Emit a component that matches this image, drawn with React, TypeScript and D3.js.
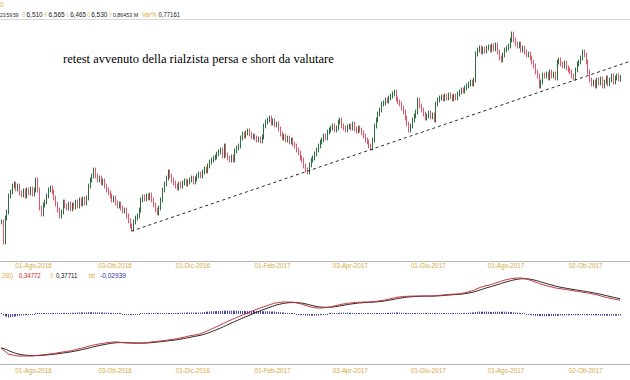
import React from "react";
import * as d3 from "d3";

// ---- DATA ----
const startDate = [2016, 6, 6]; // first session: 06 Jul 2016 (daily, weekdays)
const closes = [
  4.725, 4.475, 4.775, 4.85, 5.05, 5.1, 5.175, 5.2, 5.138, 5.175,
  5.088, 5.063, 5.113, 5.05, 5.125, 5.088, 5.138, 5.075, 5.125, 5.25,
  5.125, 4.9, 4.825, 4.938, 4.975, 5.05, 5.125, 5.15, 5.1, 5.025,
  4.95, 4.875, 4.8, 4.85, 4.975, 4.925, 4.9, 4.95, 4.888, 4.938,
  4.913, 4.975, 4.925, 5.0, 4.95, 5.013, 4.963, 5.025, 5.175, 5.25,
  5.3, 5.375, 5.3, 5.25, 5.275, 5.213, 5.238, 5.175, 5.125, 5.088,
  5.05, 5.0, 5.025, 4.963, 4.925, 4.95, 4.9, 4.863, 4.875, 4.8,
  4.738, 4.675, 4.638, 4.725, 4.775, 4.8, 4.875, 5.0, 5.038, 5.013,
  5.05, 5.025, 5.063, 5.0, 4.938, 4.875, 4.838, 4.9, 5.0, 5.125,
  5.2, 5.275, 5.35, 5.3, 5.25, 5.213, 5.175, 5.15, 5.2, 5.175,
  5.213, 5.238, 5.2, 5.225, 5.25, 5.275, 5.225, 5.263, 5.3, 5.325,
  5.3, 5.35, 5.388, 5.363, 5.425, 5.475, 5.5, 5.525, 5.538, 5.575,
  5.6, 5.625, 5.55, 5.675, 5.563, 5.525, 5.5, 5.538, 5.5, 5.613,
  5.65, 5.675, 5.775, 5.825, 5.8, 5.838, 5.863, 5.825, 5.788, 5.8,
  5.775, 5.75, 5.763, 5.738, 5.788, 5.925, 5.975, 6.0, 6.025, 5.963,
  5.988, 5.938, 5.95, 5.888, 5.825, 5.775, 5.8, 5.75, 5.775, 5.725,
  5.75, 5.7, 5.675, 5.625, 5.588, 5.525, 5.5, 5.425, 5.375, 5.35,
  5.438, 5.5, 5.525, 5.575, 5.625, 5.675, 5.725, 5.75, 5.8, 5.775,
  5.85, 5.875, 5.9, 5.925, 5.875, 5.9, 5.975, 6.0, 5.925, 5.9,
  5.875, 5.913, 5.925, 5.9, 5.95, 5.888, 5.863, 5.9, 5.875, 5.838,
  5.8, 5.75, 5.725, 5.675, 5.65, 5.75, 5.925, 6.0, 6.075, 6.125,
  6.2, 6.213, 6.25, 6.238, 6.275, 6.3, 6.325, 6.35, 6.263, 6.225,
  6.2, 6.15, 6.1, 6.025, 5.95, 5.875, 5.925, 6.0, 6.05, 6.1,
  6.25, 6.175, 6.125, 6.075, 6.025, 6.05, 6.088, 6.038, 6.063, 6.0,
  6.2, 6.25, 6.275, 6.288, 6.263, 6.3, 6.275, 6.313, 6.288, 6.263,
  6.3, 6.275, 6.325, 6.35, 6.375, 6.363, 6.4, 6.425, 6.45, 6.475,
  6.45, 6.5, 6.825, 6.875, 6.9, 6.85, 6.888, 6.863, 6.9, 6.913,
  6.875, 6.925, 6.888, 6.938, 6.85, 6.775, 6.75, 6.813, 6.875, 6.9,
  6.925, 7.0, 7.075, 7.0, 6.95, 6.925, 6.95, 6.875, 6.9, 6.85,
  6.813, 6.825, 6.775, 6.725, 6.675, 6.6, 6.55, 6.425, 6.475, 6.563,
  6.55, 6.575, 6.525, 6.6, 6.55, 6.575, 6.525, 6.725, 6.75, 6.7,
  6.675, 6.713, 6.65, 6.625, 6.6, 6.55, 6.525, 6.625, 6.7, 6.725,
  6.775, 6.85, 6.813, 6.725, 6.6, 6.5, 6.45, 6.475, 6.425, 6.5,
  6.463, 6.513, 6.425, 6.475, 6.525, 6.45, 6.5, 6.55, 6.475, 6.525,
  6.55, 6.51, 6.53,
];
const macd = [
  -0.85, -0.89, -0.93, -0.96, -1.0, -1.01, -1.02, -1.03, -1.04, -1.045,
  -1.05, -1.05, -1.05, -1.05, -1.05, -1.05, -1.05, -1.048, -1.045, -1.04,
  -1.035, -1.03, -1.025, -1.02, -1.015, -1.01, -1.005, -1.0, -0.995, -0.99,
  -0.98, -0.975, -0.965, -0.96, -0.95, -0.945, -0.935, -0.93, -0.925, -0.915,
  -0.905, -0.895, -0.88, -0.87, -0.86, -0.85, -0.84, -0.825, -0.81, -0.8,
  -0.79, -0.78, -0.77, -0.76, -0.75, -0.745, -0.735, -0.73, -0.72, -0.715,
  -0.71, -0.705, -0.7, -0.7, -0.7, -0.705, -0.71, -0.715, -0.72, -0.72,
  -0.725, -0.725, -0.73, -0.73, -0.73, -0.73, -0.73, -0.725, -0.725, -0.725,
  -0.72, -0.715, -0.71, -0.7, -0.695, -0.69, -0.685, -0.68, -0.675, -0.67,
  -0.665, -0.66, -0.65, -0.645, -0.64, -0.635, -0.625, -0.62, -0.61, -0.6,
  -0.59, -0.58, -0.57, -0.56, -0.55, -0.54, -0.535, -0.525, -0.515, -0.505,
  -0.5, -0.48, -0.46, -0.44, -0.42, -0.4, -0.38, -0.36, -0.34, -0.32,
  -0.3, -0.28, -0.255, -0.235, -0.21, -0.19, -0.17, -0.15, -0.13, -0.11,
  -0.09, -0.07, -0.05, -0.035, -0.015, 0.0, 0.02, 0.04, 0.06, 0.08,
  0.095, 0.115, 0.13, 0.15, 0.165, 0.18, 0.195, 0.21, 0.225, 0.24,
  0.255, 0.27, 0.275, 0.285, 0.29, 0.295, 0.3, 0.3, 0.3, 0.3,
  0.3, 0.295, 0.29, 0.28, 0.27, 0.26, 0.25, 0.235, 0.22, 0.205,
  0.19, 0.18, 0.17, 0.16, 0.155, 0.15, 0.15, 0.15, 0.155, 0.16,
  0.165, 0.17, 0.18, 0.19, 0.2, 0.21, 0.22, 0.23, 0.24, 0.25,
  0.255, 0.265, 0.27, 0.275, 0.28, 0.285, 0.29, 0.29, 0.295, 0.295,
  0.3, 0.3, 0.3, 0.3, 0.3, 0.305, 0.31, 0.315, 0.32, 0.33,
  0.335, 0.34, 0.35, 0.36, 0.37, 0.38, 0.39, 0.4, 0.41, 0.42,
  0.425, 0.43, 0.435, 0.44, 0.44, 0.445, 0.445, 0.445, 0.45, 0.45,
  0.45, 0.45, 0.45, 0.45, 0.45, 0.45, 0.45, 0.45, 0.45, 0.45,
  0.455, 0.46, 0.465, 0.47, 0.475, 0.48, 0.485, 0.49, 0.49, 0.495,
  0.495, 0.5, 0.5, 0.505, 0.51, 0.52, 0.53, 0.54, 0.55, 0.565,
  0.575, 0.59, 0.61, 0.63, 0.65, 0.665, 0.68, 0.695, 0.71, 0.72,
  0.725, 0.74, 0.755, 0.77, 0.785, 0.8, 0.815, 0.83, 0.845, 0.855,
  0.865, 0.875, 0.885, 0.89, 0.895, 0.9, 0.9, 0.9, 0.895, 0.885,
  0.875, 0.865, 0.85, 0.835, 0.82, 0.8, 0.785, 0.77, 0.75, 0.74,
  0.725, 0.71, 0.7, 0.69, 0.68, 0.665, 0.655, 0.645, 0.64, 0.635,
  0.625, 0.62, 0.615, 0.605, 0.6, 0.59, 0.585, 0.575, 0.57, 0.565,
  0.555, 0.55, 0.54, 0.535, 0.525, 0.52, 0.51, 0.5, 0.49, 0.48,
  0.47, 0.455, 0.445, 0.43, 0.42, 0.41, 0.4, 0.39, 0.38, 0.37,
  0.36, 0.355, 0.348,
];
const signalPeriod = 9;
const tickDates = ["2016-08-01", "2016-10-03", "2016-12-01", "2017-02-01", "2017-04-03", "2017-06-01", "2017-08-01", "2017-10-02"];
const tickLabels = ["01-Ago-2016", "03-Ott-2016", "01-Dic-2016", "01-Feb-2017", "03-Apr-2017", "01-Giu-2017", "01-Ago-2017", "02-Ott-2017"];
const trendIdx = [72, 347];
const trendPrice = [4.61, 6.73];
const headerLabels = ["", "O", "H", "L", "C", "V", "Var%"];
const headerValues = ["23:59:59", "6,510", "6,565", "6,465", "6,530", "0,86453 M", "0,77161"];
const legendTexts = [",200)", "0,34772", "S", "0,37711", "Ist", "-0,02939"];
const annotation = "retest avvenuto della rialzista persa e short da valutare";

// ---- LAYOUT / STYLE ----
const W = 630, H = 380;
const GOLD = "#d6a93c";
const UP = "#2f6e3e";
const DOWN = "#e2566a";
const headerLabelX = [0, 22.6, 44.3, 66.7, 87.3, 109.2, 142];
const headerLabelW = [0, 2.5, 2.6, 2.1, 2.6, 2.5, 14.5];
const headerValueX = [0, 26.5, 48.4, 70.3, 91.2, 112.9, 158.5];
const headerValueW = [18.5, 16.2, 16.3, 15.8, 16.1, 25.4, 21.5];
const headerValueFs = [5.4, 6.3, 6.3, 6.3, 6.3, 5.6, 6.3];
const legendX = [1, 19, 50.5, 56, 88.5, 100];
const legendW = [12, 21.7, 2.4, 21.3, 6.5, 26];
const legendColors = [GOLD, "#cc2222", GOLD, "#111", GOLD, "#3333aa"];
const SANS = "'Liberation Sans', Arial, sans-serif";

function makeDates(n: number): string[] {
  const out: string[] = [];
  const d = new Date(startDate[0], startDate[1], startDate[2]);
  while (out.length < n) {
    const wd = d.getDay();
    if (wd !== 0 && wd !== 6) {
      const s = `${d.getFullYear()}-${String(d.getMonth() + 1).padStart(2, "0")}-${String(d.getDate()).padStart(2, "0")}`;
      out.push(s);
    }
    d.setDate(d.getDate() + 1);
  }
  return out;
}

function ema(arr: number[], p: number): number[] {
  const k = 2 / (p + 1);
  const out: number[] = [];
  arr.forEach((v, i) => out.push(i === 0 ? v : out[i - 1] + k * (v - out[i - 1])));
  return out;
}

export default function App() {
  const n = closes.length;
  const dates = makeDates(n);
  const x = d3.scaleLinear().domain([0, n - 1]).range([1, 620]);
  const y = d3.scaleLinear().domain([4.3, 7.5]).range([256, 0]);
  const yi = d3.scaleLinear().domain([-1.2, 1.0]).range([362, 274]);
  const px = (i: number) => Math.round(x(i)) + 0.5;
  const signal = ema(macd, signalPeriod);
  const hist = macd.map((v, i) => v - signal[i]);
  const wick = 0.03;

  const candles = closes.map((c, i) => {
    const o = i === 0 ? c : closes[i - 1];
    const hi = Math.max(o, c) + wick;
    const lo = Math.min(o, c) - wick;
    return { i, o, c, hi, lo, up: c >= o };
  });

  const lineGen = d3.line<number>().x((_, i) => x(i)).y((v) => yi(v));
  const ticks = tickDates.map((t, k) => ({ idx: dates.indexOf(t), label: tickLabels[k] }));

  return (
    <svg width={W} height={H} style={{ position: "absolute", left: 0, top: 0, background: "#fff" }}>
      <rect x={0} y={0} width={W} height={H} fill="#fff" />
      {/* header */}
      <text x={0} y={7} fontSize={6.5} fontFamily={SANS} fill={GOLD}>0</text>
      {headerValues.map((v, k) => (
        <g key={"h" + k}>
          {headerLabels[k] && (
            <text x={headerLabelX[k]} y={16.5} fontSize={6.3} fontFamily={SANS} fill={GOLD}
              textLength={headerLabelW[k]} lengthAdjust="spacingAndGlyphs">{headerLabels[k]}</text>
          )}
          <text x={headerValueX[k]} y={16.5} fontSize={headerValueFs[k]} fontFamily={SANS} fill="#222"
            textLength={headerValueW[k]} lengthAdjust="spacingAndGlyphs">{v}</text>
        </g>
      ))}
      <line x1={0} x2={W} y1={19.5} y2={19.5} stroke="#d8d8d8" strokeWidth={1} />

      {/* annotation */}
      <text x={63} y={63} fontSize={12.5} fontFamily="'Liberation Serif', 'Times New Roman', serif" fill="#000">{annotation}</text>

      {/* candles */}
      {candles.map((d) => (
        <line key={"c" + d.i} x1={px(d.i)} x2={px(d.i)} y1={y(d.hi)} y2={y(d.lo)} stroke={d.up ? UP : DOWN} strokeWidth={1} />
      ))}

      {/* trendline */}
      <line x1={x(trendIdx[0])} y1={y(trendPrice[0])} x2={x(trendIdx[1])} y2={y(trendPrice[1])} stroke="#111" strokeWidth={0.9} strokeDasharray="3,3" />

      {/* upper axis */}
      <line x1={0} x2={W} y1={261.5} y2={261.5} stroke="#b5b5b5" strokeWidth={1} />
      {ticks.map((t) => (
        <text key={"ut" + t.idx} x={x(t.idx)} y={268} fontSize={6.3} fontFamily={SANS} fill={GOLD} textAnchor="middle">{t.label}</text>
      ))}

      {/* legend lower panel */}
      {legendTexts.map((s, k) => (
        <text key={"l" + k} x={legendX[k]} y={277.5} fontSize={6.5} fontFamily={SANS} fill={legendColors[k]}
          textLength={legendW[k]} lengthAdjust="spacingAndGlyphs">{s}</text>
      ))}

      {/* histogram */}
      {hist.map((h, i) => {
        const y0 = yi(0);
        const y1 = yi(h);
        const hh = Math.max(1, Math.abs(y1 - y0));
        return <rect key={"hb" + i} x={Math.round(x(i))} y={h >= 0 ? y0 - hh : y0} width={1} height={hh} fill="#4646a8" />;
      })}

      {/* indicator lines */}
      <path d={lineGen(signal) || ""} fill="none" stroke="#2a1c1c" strokeWidth={1} />
      <path d={lineGen(macd) || ""} fill="none" stroke="#c0303a" strokeWidth={1} />

      {/* lower axis */}
      <line x1={0} x2={W} y1={364.5} y2={364.5} stroke="#b5b5b5" strokeWidth={1} />
      {ticks.map((t) => (
        <text key={"lt" + t.idx} x={x(t.idx)} y={372.5} fontSize={6.3} fontFamily={SANS} fill={GOLD} textAnchor="middle">{t.label}</text>
      ))}
    </svg>
  );
}
